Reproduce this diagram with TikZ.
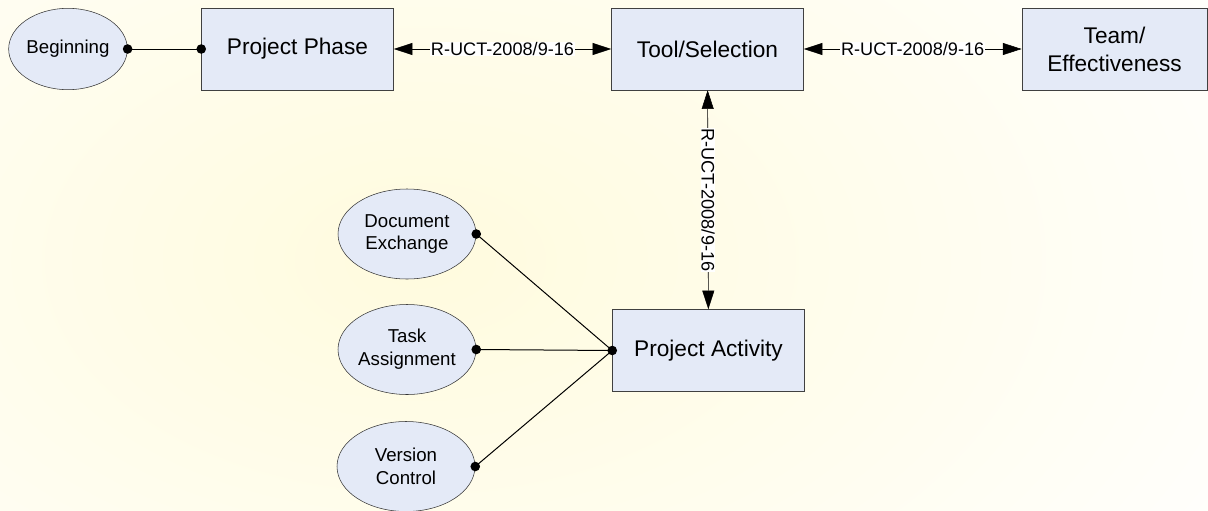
\documentclass[tikz,border=0pt]{standalone}
\usepackage{fontspec}
\setmainfont{Liberation Sans}
\usetikzlibrary{shapes.geometric,arrows.meta}
\definecolor{entityfill}{RGB}{228,234,247}
\definecolor{glow}{RGB}{255,251,222}
\begin{document}
\begin{tikzpicture}[
x=0.75pt,y=-0.75pt,
entity/.style={
% The shape:
rectangle,
% The size:
minimum width=144pt,
minimum height=61.5pt,
% The border:
draw=black!75,
% The filling:
fill=entityfill,
% Font
font=\fontsize{17}{21}\selectfont,
align=center
},
attribute/.style={
ellipse,
minimum width=103.5pt,
minimum height=67.5pt,
inner sep=0pt,
draw=black!80,
fill=entityfill,
font=\fontsize{14}{17}\selectfont,
align=center
},
relation/.style={
draw=black,
{Triangle[length=14pt,width=9pt]}-{Triangle[length=14pt,width=9pt]}
},
rolename/.style={
fill=white,
inner sep=0.5pt,
font=\fontsize{13.6}{16}\selectfont
},
link/.style={draw=black,line width=0.75pt}
]
% page and the soft glow behind it
\useasboundingbox (0,0) rectangle (1208,511);
\fill[white] (0,0) rectangle (1208,511);
\begin{scope}
\clip (0,0) rectangle (1208,511);
\shade[inner color=glow,outer color=white] (420,260) ellipse (1000 and 620);
\end{scope}

% top row
\node [attribute,minimum width=89pt,minimum height=61pt] (beg) at (68,49) {Beginning};
\node [entity] (phase) at (297.5,49) {Project Phase};
\node [entity] (tool) at (707.5,49) {Tool/Selection};
\node [entity,minimum width=139pt] (team) at (1114.5,49) {Team/\\Effectiveness};

% activity and its attributes
\node [entity] (act) at (708.5,350.5) {Project Activity};
\node [attribute] (doc) at (407,234) {Document\\Exchange};
\node [attribute] (task) at (407,349.5) {Task\\Assignment};
\node [attribute] (vers) at (406,466.5) {Version\\Control};

% relations
\draw [relation] (phase) -- node [rolename] {R-UCT-2008/9-16} (tool);
\draw [relation] (tool) -- node [rolename] {R-UCT-2008/9-16} (team);
\draw [relation] (tool) -- node [rolename,rotate=-90] {R-UCT-2008/9-16} (act);

% attribute links
\draw [link] (beg.east) -- (phase.west);
\foreach \a in {doc,task,vers}
  \draw [link] (\a.east) -- (act.west);
\foreach \p in {beg.east,phase.west,doc.east,task.east,vers.east,act.west}
  \fill (\p) circle (3.6pt);
\end{tikzpicture}
\end{document}
